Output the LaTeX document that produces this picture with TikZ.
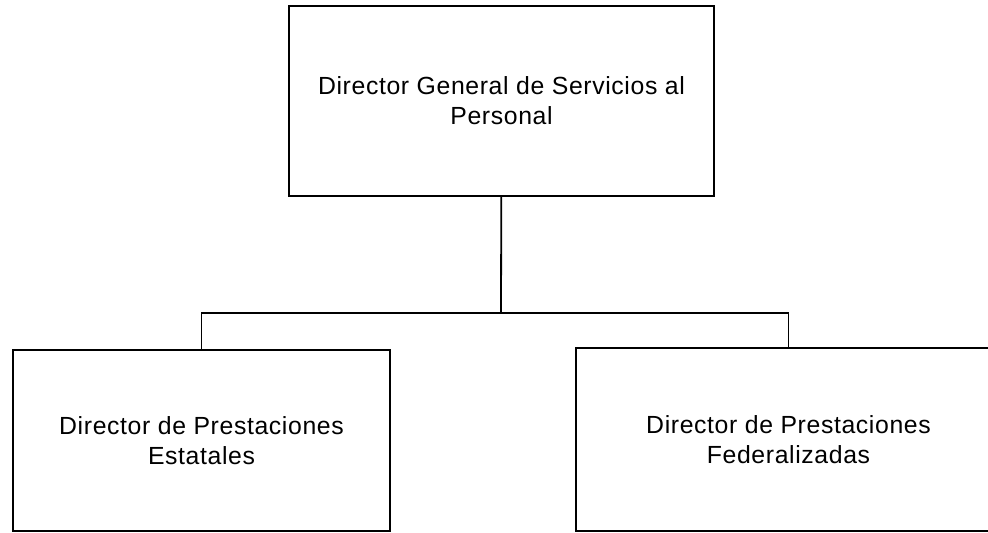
\documentclass[tikz,border=0pt]{standalone}
\usepackage{fontspec}
\setmainfont{Liberation Sans}[LetterSpace=2.5]
\usepackage{tikz}
\usetikzlibrary{shapes,positioning}
\tikzstyle{rec} = [rectangle,draw,line width=0.9pt,align=center,inner sep=0pt]

\begin{document}
\begin{tikzpicture}
		[
		x=0.5pt,y=-0.5pt,
		block/.style={
		rec,
		font=\fontsize{12.4}{15}\selectfont},
		link/.style={draw,line width=0.9pt}
		]
		\useasboundingbox (0,0) rectangle (988,532);
		\node[block,minimum width=212.5pt,minimum height=95pt] (director) at (501.5,101) {Director General de Servicios al\\Personal};
		\node[block,minimum width=188.5pt,minimum height=90.5pt] (estatales) at (201.5,440.5) {Director de Prestaciones\\Estatales};
		\node[block,minimum width=212.5pt,minimum height=91.5pt] (federales) at (788.5,439.5) {Director de Prestaciones\\Federalizadas};
		\coordinate (junction) at (501,313);
		
    	\draw[link] (director) -- (junction);
    	\draw[link] (estatales.north) |- (junction) -| (federales.north);
		\end{tikzpicture}
\end{document}
